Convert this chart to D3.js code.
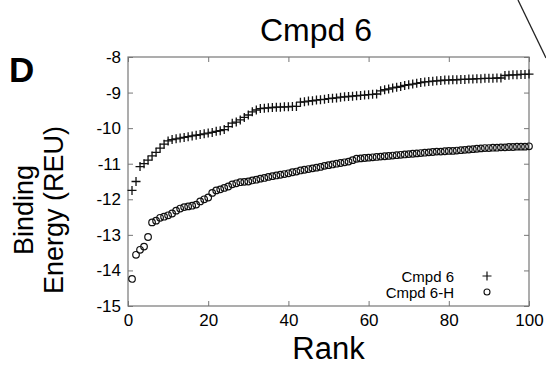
<!DOCTYPE html>
<html>
<head>
<meta charset="utf-8">
<script src="https://cdn.jsdelivr.net/npm/d3@7"></script>
<style>
  body { margin: 0; background: #fff; }
  svg { display: block; font-family: "Liberation Sans", Arial, sans-serif; }
</style>
</head>
<body>
<div id="vis"></div>
<script>
// rank 1..100
var ranks = d3.range(1, 101);

var cmpd6 = [
    -11.75, -11.50, -11.08, -11.00, -10.90, -10.78, -10.68, -10.56, -10.45, -10.36,
    -10.32, -10.30, -10.28, -10.26, -10.24, -10.22, -10.20, -10.18, -10.16, -10.14,
    -10.12, -10.09, -10.07, -10.04, -9.96, -9.86, -9.83, -9.77, -9.70, -9.63,
    -9.54, -9.49, -9.45, -9.44, -9.43, -9.42, -9.41, -9.41, -9.40, -9.40,
    -9.39, -9.39, -9.27, -9.26, -9.24, -9.23, -9.21, -9.20, -9.19, -9.17,
    -9.16, -9.15, -9.13, -9.12, -9.11, -9.10, -9.09, -9.08, -9.07, -9.06,
    -9.05, -9.04, -8.95, -8.92, -8.90, -8.87, -8.85, -8.83, -8.80, -8.78,
    -8.76, -8.74, -8.72, -8.70, -8.69, -8.68, -8.67, -8.66, -8.65, -8.65,
    -8.64, -8.64, -8.63, -8.63, -8.62, -8.62, -8.61, -8.61, -8.60, -8.60,
    -8.60, -8.59, -8.59, -8.52, -8.51, -8.50, -8.50, -8.49, -8.49, -8.48
];

var cmpd6H = [
    -14.24, -13.56, -13.42, -13.33, -13.06, -12.65, -12.60, -12.52, -12.49, -12.45,
    -12.40, -12.32, -12.26, -12.22, -12.20, -12.18, -12.15, -12.06, -12.00, -11.95,
    -11.82, -11.75, -11.72, -11.68, -11.64, -11.58, -11.55, -11.52, -11.51, -11.50,
    -11.47, -11.45, -11.42, -11.40, -11.37, -11.35, -11.33, -11.31, -11.29, -11.27,
    -11.24, -11.22, -11.19, -11.17, -11.15, -11.13, -11.11, -11.09, -11.06, -11.04,
    -11.02, -11.00, -10.98, -10.96, -10.94, -10.90, -10.86, -10.85, -10.84, -10.83,
    -10.82, -10.81, -10.80, -10.79, -10.78, -10.77, -10.76, -10.75, -10.74, -10.73,
    -10.72, -10.71, -10.70, -10.69, -10.68, -10.67, -10.66, -10.66, -10.65, -10.64,
    -10.64, -10.63, -10.62, -10.61, -10.60, -10.59, -10.58, -10.57, -10.56, -10.56,
    -10.55, -10.55, -10.54, -10.54, -10.53, -10.53, -10.52, -10.52, -10.52, -10.51
];

var x_ticks = [0, 20, 40, 60, 80, 100];
var y_ticks = [-8, -9, -10, -11, -12, -13, -14, -15];
var series_names = ['Cmpd 6', 'Cmpd 6-H'];

var W = 546, H = 365;
var margin = { top: 57, bottom: 59, left: 128, right: 17 };
var width = W - margin.left - margin.right;
var height = H - margin.top - margin.bottom;

var root = d3.select('#vis')
    .append('svg')
    .attr('width', W)
    .attr('height', H);

var svg = root.append('g')
    .attr('transform', 'translate(' + margin.left + ',' + margin.top + ')');

var x_scale = d3.scaleLinear().domain([0, 100]).range([0, width]);
var y_scale = d3.scaleLinear().domain([-15, -8]).range([height, 0]);

var axis_col = '#777';
// plain hyphen minus like the original
var fmt = function(d) { return String(d); };

// axes with inward ticks on all sides
function style_axis(g) {
    g.select('.domain').remove();
    g.selectAll('.tick line').attr('stroke', axis_col).attr('stroke-width', 1);
    g.selectAll('.tick text').attr('fill', '#000').style('font-size', '17px')
        .style('font-family', '"Liberation Sans", Arial, sans-serif');
}

svg.append('g')
    .attr('transform', 'translate(0,' + height + ')')
    .call(d3.axisBottom(x_scale).tickValues(x_ticks).tickSize(-5).tickPadding(8).tickFormat(fmt))
    .call(style_axis);

svg.append('g')
    .call(d3.axisTop(x_scale).tickValues(x_ticks).tickSize(-5).tickFormat(''))
    .call(style_axis);

svg.append('g')
    .call(d3.axisLeft(y_scale).tickValues(y_ticks).tickSize(-5).tickPadding(7).tickFormat(fmt))
    .call(style_axis);

svg.append('g')
    .attr('transform', 'translate(' + width + ',0)')
    .call(d3.axisRight(y_scale).tickValues(y_ticks).tickSize(-5).tickFormat(''))
    .call(style_axis);

svg.append('rect')
    .attr('width', width)
    .attr('height', height)
    .attr('fill', 'none')
    .attr('stroke', axis_col)
    .attr('stroke-width', 1.2);

// Cmpd 6 : plus signs
var plus = 'M-4.5,0H4.5M0,-4.5V4.5';
svg.selectAll('.plus')
    .data(ranks)
    .enter()
    .append('path')
    .attr('class', 'plus')
    .attr('d', plus)
    .attr('transform', function(d, i) {
        return 'translate(' + x_scale(d) + ',' + y_scale(cmpd6[i]) + ')';
    })
    .attr('stroke', '#111')
    .attr('stroke-width', 1.3)
    .attr('fill', 'none');

// Cmpd 6-H : open circles
svg.selectAll('.circ')
    .data(ranks)
    .enter()
    .append('circle')
    .attr('class', 'circ')
    .attr('cx', function(d) { return x_scale(d); })
    .attr('cy', function(d, i) { return y_scale(cmpd6H[i]); })
    .attr('r', 3.3)
    .attr('stroke', '#111')
    .attr('stroke-width', 1.2)
    .attr('fill', 'none');

// legend
var legend = svg.append('g');
legend.selectAll('text')
    .data(series_names)
    .enter()
    .append('text')
    .attr('x', 326)
    .attr('y', function(d, i) { return 225 + i * 16; })
    .attr('text-anchor', 'end')
    .style('font-size', '15px')
    .text(function(d) { return d; });

legend.append('path')
    .attr('d', plus)
    .attr('transform', 'translate(359,' + 219 + ')')
    .attr('stroke', '#111')
    .attr('stroke-width', 1.2);

legend.append('circle')
    .attr('cx', 359)
    .attr('cy', 235)
    .attr('r', 3)
    .attr('stroke', '#111')
    .attr('stroke-width', 1.1)
    .attr('fill', 'none');

// titles
root.append('text')
    .attr('x', 316)
    .attr('y', 41)
    .attr('text-anchor', 'middle')
    .style('font-size', '32px')
    .text('Cmpd 6');

root.append('text')
    .attr('x', 9)
    .attr('y', 82)
    .style('font-size', '35px')
    .style('font-weight', 'bold')
    .text('D');

root.append('text')
    .attr('x', margin.left + width / 2)
    .attr('y', 359)
    .attr('text-anchor', 'middle')
    .style('font-size', '31px')
    .text('Rank');

var ylab = root.append('text')
    .attr('transform', 'translate(0,' + 210 + ') rotate(-90)')
    .attr('text-anchor', 'middle')
    .style('font-size', '27px');
ylab.append('tspan').attr('x', 0).attr('y', 33).text('Binding');
ylab.append('tspan').attr('x', 0).attr('y', 63).text('Energy (REU)');

// stray line at top right
root.append('line')
    .attr('x1', 518).attr('y1', 0)
    .attr('x2', 546).attr('y2', 58)
    .attr('stroke', '#222')
    .attr('stroke-width', 1.3);
</script>
</body>
</html>
